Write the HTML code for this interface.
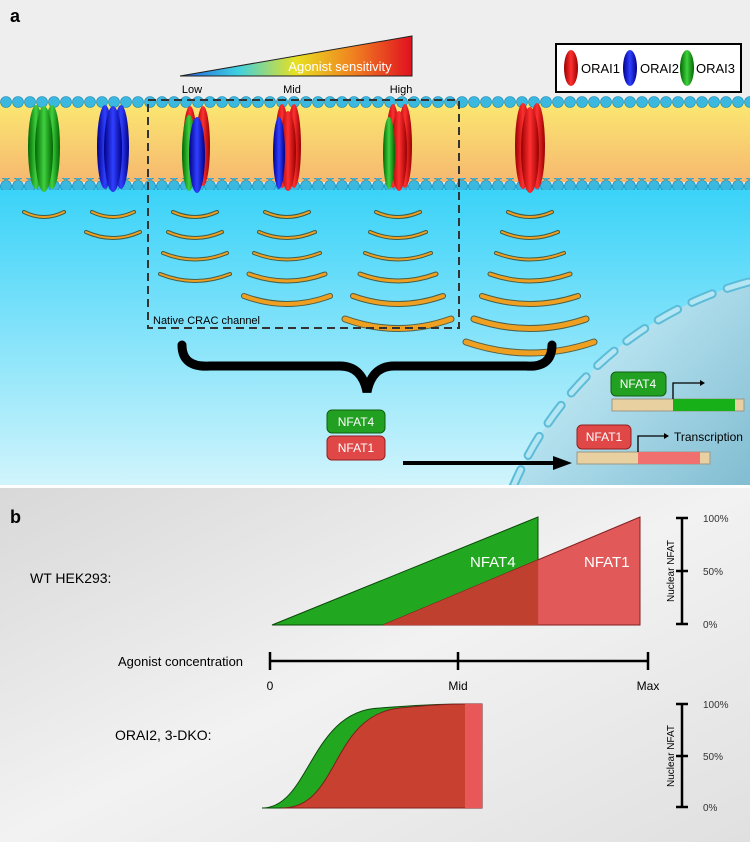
<!DOCTYPE html><html><head><style>html,body{margin:0;overflow:hidden;width:750px;height:842px}svg{display:block;font-family:"Liberation Sans",sans-serif}</style></head><body>
<svg width="750" height="842" viewBox="0 0 750 842" xmlns="http://www.w3.org/2000/svg">
<defs>
<linearGradient id="ag" x1="0" x2="1"><stop offset="0" stop-color="#2060e0"/><stop offset=".25" stop-color="#40d0e0"/><stop offset=".5" stop-color="#e8e020"/><stop offset=".75" stop-color="#f08020"/><stop offset="1" stop-color="#e01020"/></linearGradient>
<linearGradient id="cy" x1="0" y1="0" x2="0" y2="1"><stop offset="0" stop-color="#38d2f8"/><stop offset="1" stop-color="#d0f4fc"/></linearGradient>
<linearGradient id="mem" x1="0" y1="0" x2="0" y2="1"><stop offset="0" stop-color="#fbe870"/><stop offset="1" stop-color="#f6b870"/></linearGradient>
<linearGradient id="bg2" x1="0" y1="0" x2="1" y2="1"><stop offset="0" stop-color="#d8d8d8"/><stop offset=".5" stop-color="#f2f2f2"/><stop offset="1" stop-color="#e0e0e0"/></linearGradient>
<linearGradient id="nuc" gradientUnits="userSpaceOnUse" x1="560" y1="320" x2="740" y2="485"><stop offset="0" stop-color="#c8eef8"/><stop offset=".5" stop-color="#a4d6e6"/><stop offset="1" stop-color="#84bed2"/></linearGradient>
<linearGradient id="r" x1="0" x2="1"><stop offset="0" stop-color="#900"/><stop offset=".5" stop-color="#ff3030"/><stop offset="1" stop-color="#900"/></linearGradient>
<linearGradient id="g" x1="0" x2="1"><stop offset="0" stop-color="#060"/><stop offset=".5" stop-color="#40d040"/><stop offset="1" stop-color="#060"/></linearGradient>
<linearGradient id="b" x1="0" x2="1"><stop offset="0" stop-color="#008"/><stop offset=".5" stop-color="#3040ff"/><stop offset="1" stop-color="#008"/></linearGradient>
<pattern id="heads" width="12" height="12" patternUnits="userSpaceOnUse"><circle cx="6" cy="6" r="5.5" fill="#3ab8e0" stroke="#1a88b0" stroke-width=".6"/></pattern>
<clipPath id="top"><rect width="750" height="485"/></clipPath>
</defs>
<rect width="750" height="485" fill="#eeeeee"/>
<rect y="185" width="750" height="300" fill="url(#cy)"/>
<g clip-path="url(#top)">
<circle cx="840" cy="625" r="355" fill="url(#nuc)"/>
<circle cx="840" cy="625" r="355" fill="none" stroke="#5cbcd8" stroke-width="9" stroke-dasharray="22 16" stroke-linecap="round"/>
<circle cx="840" cy="625" r="355" fill="none" stroke="#b4e6f4" stroke-width="5" stroke-dasharray="22 16" stroke-linecap="round"/>
</g>
<rect y="102" width="750" height="80" fill="url(#mem)"/>
<rect y="96" width="750" height="12" fill="url(#heads)"/>
<rect y="178" width="750" height="12" fill="url(#heads)"/>
<g>
<g fill="url(#g)"><ellipse cx="36" cy="147" rx="8" ry="42"/><ellipse cx="52" cy="147" rx="8" ry="42"/><ellipse cx="44" cy="149" rx="9" ry="43"/></g>
<g fill="url(#b)"><ellipse cx="105" cy="147" rx="8" ry="42"/><ellipse cx="121" cy="147" rx="8" ry="42"/><ellipse cx="113" cy="149" rx="9" ry="43"/></g>
<g fill="url(#r)"><ellipse cx="190" cy="146" rx="7" ry="40"/><ellipse cx="203" cy="146" rx="7" ry="40"/></g><ellipse cx="189" cy="153" rx="7" ry="38" fill="url(#g)"/><ellipse cx="197" cy="155" rx="8" ry="38" fill="url(#b)"/>
<g fill="url(#r)"><ellipse cx="282" cy="146" rx="7" ry="42"/><ellipse cx="294" cy="146" rx="7" ry="42"/><ellipse cx="288" cy="151" rx="8" ry="40"/></g><ellipse cx="279" cy="153" rx="6" ry="36" fill="url(#b)"/>
<g fill="url(#r)"><ellipse cx="393" cy="146" rx="7" ry="42"/><ellipse cx="405" cy="146" rx="7" ry="42"/><ellipse cx="399" cy="151" rx="8" ry="40"/></g><ellipse cx="389" cy="153" rx="6" ry="36" fill="url(#g)"/>
<g fill="url(#r)"><ellipse cx="523" cy="146" rx="8" ry="43"/><ellipse cx="537" cy="146" rx="8" ry="43"/><ellipse cx="530" cy="150" rx="9" ry="43"/></g>
</g>
<g fill="none" stroke-linecap="round">
<g stroke="#3a2a00" opacity=".7">
<path d="M24 212 Q44 222 64 212" stroke-width="4"/>
<path d="M92 212 Q113 222 134 212" stroke-width="4"/><path d="M86 232 Q113 244 140 232" stroke-width="4"/>
<path d="M173 212 Q195 222 217 212" stroke-width="4"/><path d="M168 232 Q195 244 222 232" stroke-width="4"/><path d="M163 253 Q195 266 227 253" stroke-width="4"/><path d="M160 274 Q195 288 230 274" stroke-width="4"/>
<path d="M265 212 Q287 222 309 212" stroke-width="4"/><path d="M259 232 Q287 244 315 232" stroke-width="4"/><path d="M254 253 Q287 266 320 253" stroke-width="4"/><path d="M249 274 Q287 288 325 274" stroke-width="5"/><path d="M244 296 Q287 312 330 296" stroke-width="6"/>
<path d="M376 212 Q398 222 420 212" stroke-width="4"/><path d="M370 232 Q398 244 426 232" stroke-width="4"/><path d="M365 253 Q398 266 431 253" stroke-width="4"/><path d="M360 274 Q398 288 436 274" stroke-width="5"/><path d="M353 296 Q398 312 443 296" stroke-width="6"/><path d="M345 319 Q398 338 451 319" stroke-width="7"/>
<path d="M508 212 Q530 222 552 212" stroke-width="4"/><path d="M502 232 Q530 244 558 232" stroke-width="4"/><path d="M496 253 Q530 266 564 253" stroke-width="4"/><path d="M490 274 Q530 288 570 274" stroke-width="5"/><path d="M482 296 Q530 312 578 296" stroke-width="6"/><path d="M474 319 Q530 338 586 319" stroke-width="7"/><path d="M466 342 Q530 364 594 342" stroke-width="7"/>
</g>
<g stroke="#f0a020">
<path d="M24 212 Q44 222 64 212" stroke-width="2"/>
<path d="M92 212 Q113 222 134 212" stroke-width="2"/><path d="M86 232 Q113 244 140 232" stroke-width="2"/>
<path d="M173 212 Q195 222 217 212" stroke-width="2"/><path d="M168 232 Q195 244 222 232" stroke-width="2"/><path d="M163 253 Q195 266 227 253" stroke-width="2"/><path d="M160 274 Q195 288 230 274" stroke-width="2"/>
<path d="M265 212 Q287 222 309 212" stroke-width="2"/><path d="M259 232 Q287 244 315 232" stroke-width="2"/><path d="M254 253 Q287 266 320 253" stroke-width="2"/><path d="M249 274 Q287 288 325 274" stroke-width="3"/><path d="M244 296 Q287 312 330 296" stroke-width="4"/>
<path d="M376 212 Q398 222 420 212" stroke-width="2"/><path d="M370 232 Q398 244 426 232" stroke-width="2"/><path d="M365 253 Q398 266 431 253" stroke-width="2"/><path d="M360 274 Q398 288 436 274" stroke-width="3"/><path d="M353 296 Q398 312 443 296" stroke-width="4"/><path d="M345 319 Q398 338 451 319" stroke-width="5"/>
<path d="M508 212 Q530 222 552 212" stroke-width="2"/><path d="M502 232 Q530 244 558 232" stroke-width="2"/><path d="M496 253 Q530 266 564 253" stroke-width="2"/><path d="M490 274 Q530 288 570 274" stroke-width="3"/><path d="M482 296 Q530 312 578 296" stroke-width="4"/><path d="M474 319 Q530 338 586 319" stroke-width="5"/><path d="M466 342 Q530 364 594 342" stroke-width="5"/>
</g>
</g>
<rect x="148" y="100" width="311" height="228" fill="none" stroke="#333" stroke-width="2" stroke-dasharray="8 5"/>
<text x="153" y="324" font-size="11">Native CRAC channel</text>
<polygon points="180,76 412,36 412,76" fill="url(#ag)" stroke="#222" stroke-width="1"/>
<text x="340" y="71" font-size="13" fill="#fff" text-anchor="middle">Agonist sensitivity</text>
<g font-size="11" text-anchor="middle"><text x="192" y="93">Low</text><text x="292" y="93">Mid</text><text x="401" y="93">High</text></g>
<rect x="556" y="44" width="185" height="48" fill="#fff" stroke="#000" stroke-width="2"/>
<ellipse cx="571" cy="68" rx="7" ry="18" fill="url(#r)"/><text x="581" y="73" font-size="13">ORAI1</text>
<ellipse cx="630" cy="68" rx="7" ry="18" fill="url(#b)"/><text x="640" y="73" font-size="13">ORAI2</text>
<ellipse cx="687" cy="68" rx="7" ry="18" fill="url(#g)"/><text x="696" y="73" font-size="13">ORAI3</text>
<text x="10" y="22" font-size="18" font-weight="bold">a</text>
<path d="M182 345 Q182 368 210 366 L340 366 Q362 366 367 392 Q372 366 394 366 L526 366 Q552 368 552 345" fill="none" stroke="#000" stroke-width="9" stroke-linecap="round"/>
<rect x="327" y="410" width="58" height="23" rx="5" fill="#22a022" stroke="#106010"/><text x="356" y="426" font-size="12" fill="#fff" text-anchor="middle">NFAT4</text>
<rect x="327" y="436" width="58" height="24" rx="5" fill="#e04848" stroke="#902020"/><text x="356" y="452" font-size="12" fill="#fff" text-anchor="middle">NFAT1</text>
<line x1="403" y1="463" x2="555" y2="463" stroke="#000" stroke-width="4"/><polygon points="553,456 572,463 553,470"/>
<rect x="612" y="399" width="132" height="12" fill="#e8d0a0" stroke="#998"/><rect x="673" y="399" width="62" height="12" fill="#18b018"/>
<rect x="611" y="372" width="55" height="24" rx="5" fill="#22a022" stroke="#106010"/><text x="638" y="388" font-size="12" fill="#fff" text-anchor="middle">NFAT4</text>
<path d="M673 399 V383 H700" fill="none" stroke="#000" stroke-width="1.3"/><polygon points="700,380 705,383 700,386"/>
<rect x="577" y="452" width="133" height="12" fill="#e8d0a0" stroke="#998"/><rect x="638" y="452" width="62" height="12" fill="#f07070"/>
<rect x="577" y="425" width="54" height="24" rx="5" fill="#e04848" stroke="#902020"/><text x="604" y="441" font-size="12" fill="#fff" text-anchor="middle">NFAT1</text>
<path d="M638 452 V436 H664" fill="none" stroke="#000" stroke-width="1.3"/><polygon points="664,433 669,436 664,439"/>
<text x="674" y="441" font-size="12">Transcription</text>
<rect y="485" width="750" height="357" fill="url(#bg2)"/>
<rect y="485" width="750" height="3" fill="#fff"/>
<text x="10" y="523" font-size="18" font-weight="bold">b</text>
<text x="30" y="583" font-size="14">WT HEK293:</text>
<polygon points="272,625 538,517 538,625" fill="#22a820" stroke="#0a4a0a"/>
<polygon points="383,625 640,517 640,625" fill="#e05050" fill-opacity=".95" stroke="#802020"/>
<polygon points="383,625 538,560 538,625" fill="#c04030"/>
<text x="470" y="567" font-size="15" fill="#fff">NFAT4</text><text x="584" y="567" font-size="15" fill="#fff">NFAT1</text>
<g stroke="#000" stroke-width="2.5"><line x1="682" y1="517" x2="682" y2="625"/><line x1="676" y1="518" x2="688" y2="518"/><line x1="676" y1="571" x2="688" y2="571"/><line x1="676" y1="624" x2="688" y2="624"/>
<line x1="682" y1="703" x2="682" y2="808"/><line x1="676" y1="704" x2="688" y2="704"/><line x1="676" y1="756" x2="688" y2="756"/><line x1="676" y1="807" x2="688" y2="807"/>
<line x1="270" y1="661" x2="648" y2="661"/><line x1="270" y1="652" x2="270" y2="670"/><line x1="458" y1="652" x2="458" y2="670"/><line x1="648" y1="652" x2="648" y2="670"/></g>
<g font-size="10" fill="#333"><text x="703" y="522">100%</text><text x="703" y="575">50%</text><text x="703" y="628">0%</text><text x="703" y="708">100%</text><text x="703" y="760">50%</text><text x="703" y="811">0%</text></g>
<text transform="translate(674,571) rotate(-90)" font-size="10" text-anchor="middle">Nuclear NFAT</text>
<text transform="translate(674,756) rotate(-90)" font-size="10" text-anchor="middle">Nuclear NFAT</text>
<text x="118" y="666" font-size="13">Agonist concentration</text>
<g font-size="12" text-anchor="middle"><text x="270" y="690">0</text><text x="458" y="690">Mid</text><text x="648" y="690">Max</text></g>
<text x="115" y="740" font-size="14">ORAI2,  3-DKO:</text>
<path d="M262 808 C310 808 310 710 380 708 Q430 704 465 704 L465 808 Z" fill="#22a820" stroke="#0a4a0a"/>
<path d="M282 808 C340 808 330 715 400 708 Q440 704 465 704 L482 704 L482 808 Z" fill="#c84030" stroke="#802020"/>
<rect x="465" y="704" width="17" height="104" fill="#e85858"/>
</svg></body></html>
